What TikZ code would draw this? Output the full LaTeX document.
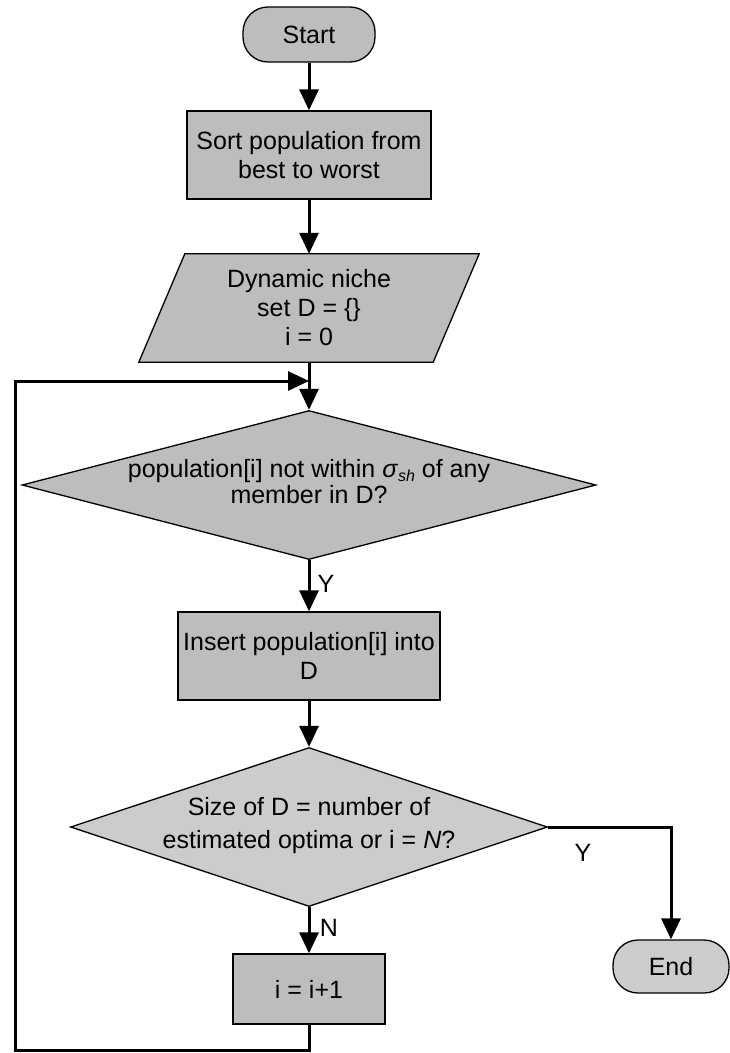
\documentclass[tikz,border=0pt]{standalone}
\usepackage{fontspec}
\setmainfont{Liberation Sans}
\usetikzlibrary{arrows.meta,shapes.geometric,calc,backgrounds}

\definecolor{boxgray}{gray}{0.74}
\definecolor{lightgray}{gray}{0.80}

\begin{document}
\begin{tikzpicture}[x=1pt,y=-1pt,
  every node/.style={font=\fontsize{25}{29}\selectfont, inner sep=0pt},
  outline/.style={draw=black, line width=1.3pt, fill=boxgray},
  terminal/.style={outline, rounded corners=25pt},
  process/.style={outline},
  decision/.style={outline, diamond},
  flow/.style={line width=3pt, -{Triangle[width=19pt,length=21pt]}},
  tag/.style={font=\fontsize{25}{29}\selectfont}]

  \useasboundingbox (0,0) rectangle (730,1053);

  % main column of steps
  \node[terminal, minimum width=132pt, minimum height=55pt] (start) at (309,34.5) {Start};
  \node[process, minimum width=244pt, minimum height=88pt, align=center] (sort) at (309,155)
    {Sort population from\\best to worst};
  \node[minimum width=294pt, minimum height=108pt, align=center] (para) at (309,308)
    {Dynamic niche\\set D = \{\}\\i = 0};

  % white page and the slanted input/output box, behind the text
  \begin{scope}[on background layer]
    \fill[white] (0,0) rectangle (730,1053);
    \draw[outline]
      ($(para.north west)+(23,0)$) -- ($(para.north east)+(23,0)$) --
      ($(para.south east)+(-23,0)$) -- ($(para.south west)+(-23,0)$) -- cycle;
  \end{scope}

  \node[decision, minimum width=574pt, minimum height=149pt] (d1) at (309,485) {};
  \node[align=center, font=\fontsize{25}{26}\selectfont] (d1text) at (309,482)
    {population[i] not within \textit{σ}\raisebox{-4pt}{\fontsize{16}{16}\selectfont\itshape sh} of any\\member in D?};

  \node[process, minimum width=262pt, minimum height=88pt, align=center] (ins) at (309,656)
    {Insert population[i] into\\D};

  \node[decision, fill=lightgray, minimum width=477pt, minimum height=159pt] (d2) at (309,827) {};
  \node[align=center, font=\fontsize{25}{33}\selectfont] (d2text) at (309,826)
    {Size of D = number of\\estimated optima or i = \textit{N}?};

  \node[process, minimum width=152pt, minimum height=70pt] (inc) at (309,989) {i = i+1};

  \node[terminal, fill=lightgray, minimum width=116pt, minimum height=53pt] (end) at (671,966.5) {End};

  % connectors
  \coordinate (merge) at (309,381);
  \coordinate (lowleft) at (15,1050);

  \draw[flow] (start.south) -- (sort.north);
  \draw[flow] (sort.south) -- (para.north);
  \draw[flow] (para.south) -- (d1.north);
  \draw[flow] (d1.south) -- (ins.north);
  \draw[flow] (ins.south) -- (d2.north);
  \draw[flow] (d2.south) -- (inc.north);
  \draw[flow] (d2.east) -| (end.north);
  \draw[flow] (inc.south) |- (lowleft) |- (merge);

  % branch labels
  \node[tag] (yes1) at (326,584) {Y};
  \node[tag] (no2) at (329,928) {N};
  \node[tag] (yes2) at (583,853) {Y};
\end{tikzpicture}
\end{document}
